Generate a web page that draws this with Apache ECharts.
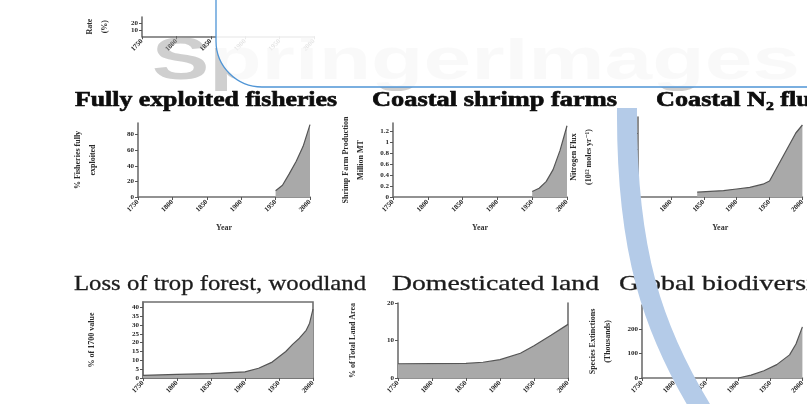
<!DOCTYPE html>
<html><head><meta charset="utf-8">
<script src="https://cdn.jsdelivr.net/npm/echarts@6/dist/echarts.min.js"></script>
<style>
html,body{margin:0;padding:0;background:#fff;}
#wrap{position:relative;width:807px;height:404px;overflow:hidden;background:#fff;}
#base{position:absolute;left:0;top:0;width:807px;height:404px;filter:blur(0.5px);}
#over{position:absolute;left:0;top:0;width:807px;height:404px;}
</style></head><body><div id="wrap"><div id="base"></div><div id="over"></div></div>
<script>
// ---------- data ----------
const yearTicks = [1750, 1800, 1850, 1900, 1950, 2000];

const fisheriesYears  = [1950, 1960, 1970, 1980, 1990, 2000];
const fisheriesValues = [8, 15, 30, 46, 65, 93];

const shrimpYears  = [1950, 1960, 1970, 1980, 1990, 2000];
const shrimpValues = [0.1, 0.16, 0.28, 0.5, 0.85, 1.3];

const nitrogenYears  = [1840, 1860, 1880, 1900, 1920, 1940, 1950, 1960, 1970, 1980, 1990, 2000];
const nitrogenValues = [0.6, 0.7, 0.8, 1.0, 1.2, 1.6, 2.0, 3.5, 5.0, 6.5, 8.0, 9.0];

const forestYears  = [1750, 1800, 1850, 1900, 1920, 1940, 1950, 1960, 1970, 1980, 1990, 1995, 2000];
const forestValues = [1.5, 2, 2.5, 3.5, 5.5, 9, 12, 15, 19, 22.5, 27, 31, 39];

const landYears  = [1750, 1850, 1875, 1900, 1930, 1950, 1975, 2000];
const landValues = [3.8, 3.9, 4.2, 4.9, 6.6, 8.6, 11.4, 14.3];

const bioYears  = [1900, 1920, 1940, 1960, 1980, 1990, 2000];
const bioValues = [0, 12, 30, 55, 95, 140, 210];

const titles = [
  "Fully exploited fisheries", "Coastal shrimp farms", "Coastal N\u2082 flux",
  "Loss of trop forest, woodland", "Domesticated land", "Global biodiversity"
];
const yNames = [
  "% Fisheries fully\nexploited", "Shrimp Farm Production\nMillion MT", "Nitrogen Flux\n(10\u00b9\u00b2 moles yr\u207b\u00b9)",
  "% of 1700 value", "% of Total Land Area", "Species Extinctions\n(Thousands)"
];

// ---------- helpers ----------
const zip = (a, b) => a.map((v, i) => [v, b[i]]);
const SERIF = '"Liberation Serif", "DejaVu Serif", serif';
const mctx = document.createElement('canvas').getContext('2d');
function fitScale(text, font, target) { mctx.font = font; return target / mctx.measureText(text).width; }

const labelStyle = {fontSize: 7, fontWeight: 'bold', fontFamily: SERIF, color: '#1e1e1e'};
const axLine = {show: true, lineStyle: {color: '#6f6f6f', width: 1.6}};

const grids = [
  {left: 142, top: -60, width: 172, height: 77},   // partial top chart
  {left: 138, top: 123, width: 172, height: 74},
  {left: 393, top: 123, width: 174, height: 74},
  {left: 638, top: 117, width: 175, height: 80},
  {left: 143, top: 302, width: 170, height: 76, show: true, borderColor: '#6f6f6f', borderWidth: 1.6},
  {left: 398, top: 303, width: 170, height: 75},
  {left: 642, top: 305, width: 175, height: 73}
];

function xAx(i, withName) {
  return {
    type: 'value', gridIndex: i, min: 1750, max: 2000, interval: 50,
    axisLine: axLine, axisTick: {show: true, length: 3, lineStyle: {color: '#555'}},
    splitLine: {show: false},
    axisLabel: Object.assign({rotate: 45, margin: 4, formatter: v => String(v)}, labelStyle),
    name: withName ? 'Year' : '', nameLocation: 'middle', nameGap: 27,
    nameTextStyle: {fontSize: 8, fontWeight: 'bold', fontFamily: SERIF, color: '#333'}
  };
}
function yAx(i, max, interval, name, gap, showLabels) {
  return {
    type: 'value', gridIndex: i, min: 0, max: max, interval: interval,
    axisLine: axLine, axisTick: {show: true, length: 3, lineStyle: {color: '#555'}},
    splitLine: {show: false},
    axisLabel: Object.assign({margin: 4, showMaxLabel: false, show: showLabels !== false}, labelStyle),
    name: name, nameLocation: 'middle', nameRotate: 90, nameGap: gap,
    nameTextStyle: {fontSize: 8, fontWeight: 'bold', fontFamily: SERIF, color: '#2a2a2a', lineHeight: 15}
  };
}

const xAxes = [xAx(0, false), xAx(1, true), xAx(2, true), xAx(3, true), xAx(4, false), xAx(5, false), xAx(6, false)];
const yAxes = [
  yAx(0, 30, 10, 'Rate\n(%)', 30),
  yAx(1, 95, 20, yNames[0], 38),
  yAx(2, 1.35, 0.2, yNames[1], 25),
  yAx(3, 10, 2, yNames[2], 42),
  yAx(4, 43, 5, yNames[3], 44),
  yAx(5, 20, 10, yNames[4], 38),
  yAx(6, 300, 100, yNames[5], 27),
  // right border for domesticated land panel
  {type: 'value', gridIndex: 5, position: 'right', min: 0, max: 20, axisLine: axLine,
   axisTick: {show: false}, axisLabel: {show: false}, splitLine: {show: false}}
];
yAxes[5].axisLabel.showMaxLabel = true;

function area(i, years, vals) {
  return {
    type: 'line', xAxisIndex: i, yAxisIndex: i, data: zip(years, vals),
    showSymbol: false, symbol: 'none', smooth: false,
    lineStyle: {color: '#555', width: 1.2},
    areaStyle: {color: '#a9a9a9', opacity: 1},
    silent: true, animation: false
  };
}

const series = [
  area(1, fisheriesYears, fisheriesValues),
  area(2, shrimpYears, shrimpValues),
  area(3, nitrogenYears, nitrogenValues),
  area(4, forestYears, forestValues),
  area(5, landYears, landValues),
  area(6, bioYears, bioValues)
];

// titles: [x, yMiddle, targetWidth, bold, size]
const titleLayout = [
  [75, 101, 262, true, 20],
  [372, 101, 245, true, 20],
  [656, 101, 168, true, 20],
  [74, 284, 292, false, 22],
  [392, 284, 207, false, 22],
  [619, 284, 240, false, 22]
];
const graphics = titles.map((t, k) => {
  const L = titleLayout[k];
  const font = (L[3] ? 'bold ' : '') + L[4] + 'px ' + SERIF;
  const refText = k === 5 ? 'Global biodivers' : t;
  const refW = k === 5 ? 187 : L[2];
  return {
    type: 'text', x: L[0], y: L[1], scaleX: fitScale(refText, font, refW), z: 10,
    style: {text: t, font: font, fill: L[3] ? '#0d0d0d' : '#1c1c1c', verticalAlign: 'middle', align: 'left',
            stroke: L[3] ? '#0d0d0d' : '#1c1c1c', lineWidth: L[3] ? 0.6 : 0.3}
  };
});
// watermark
const wmFont = 'bold 60px "Liberation Sans", Arial, sans-serif';
graphics.push({
  type: 'text', x: 152, y: 62, scaleX: fitScale('SpringerImages', wmFont, 648), z: 50,
  style: {text: 'SpringerImages', font: wmFont, fill: 'rgba(160,160,160,0.5)', verticalAlign: 'middle', align: 'left'}
});

const base = echarts.init(document.getElementById('base'), null, {renderer: 'canvas'});
base.setOption({
  animation: false,
  backgroundColor: '#ffffff',
  grid: grids,
  xAxis: xAxes,
  yAxis: yAxes,
  series: series,
  graphic: graphics
});

// crisp overlay: rounded box and blue arc
const over = echarts.init(document.getElementById('over'), null, {renderer: 'canvas'});
over.setOption({
  animation: false,
  backgroundColor: 'transparent',
  graphic: [
    {type: 'rect', shape: {x: 216, y: -80, width: 700, height: 167, r: 46},
     style: {fill: 'rgba(255,255,255,0.88)', stroke: '#4f95d6', lineWidth: 1.3}},
    {type: 'bezierCurve',
     shape: {x1: 627, y1: 108, cpx1: 626, cpy1: 250, cpx2: 652, cpy2: 330, x2: 705, y2: 415},
     style: {stroke: '#b4cbe8', lineWidth: 20, fill: null, lineCap: 'butt'}}
  ]
});
</script></body></html>
